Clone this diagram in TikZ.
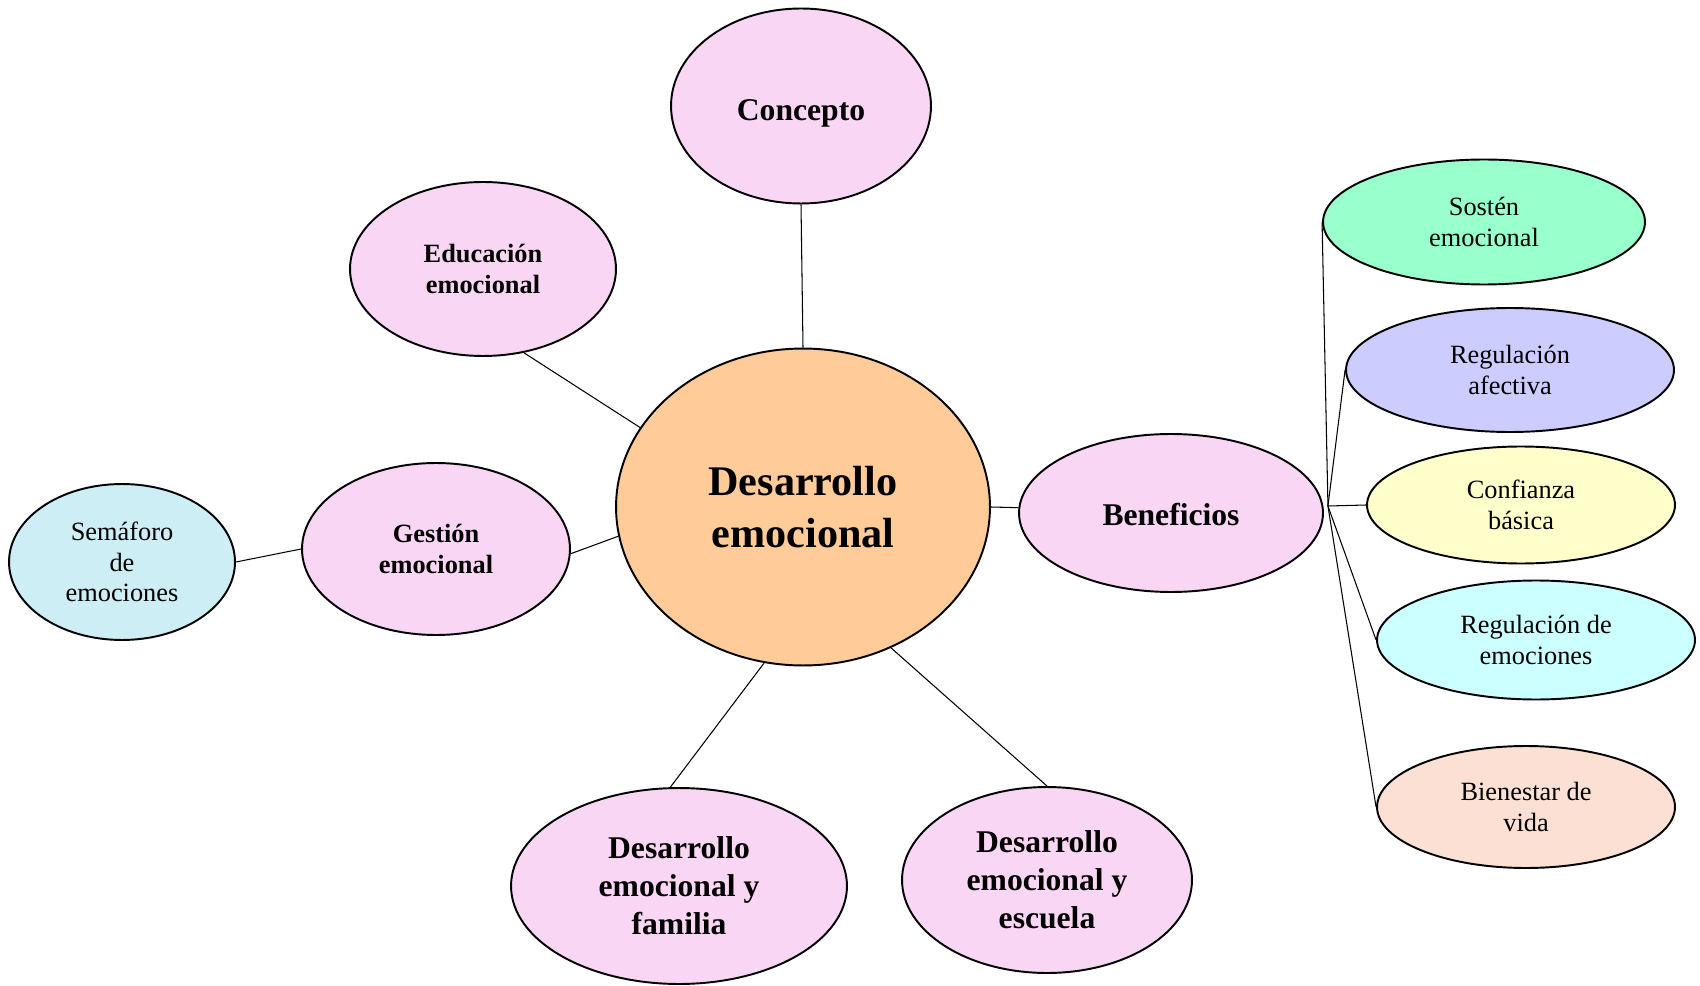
\documentclass[tikz,border=0pt]{standalone}
\usepackage{fontspec}
\setmainfont{Liberation Serif}
\usepackage{tikz}
\usetikzlibrary{shapes.geometric,positioning,calc}
\usepackage{xcolor}

\definecolor{pinkbub}{RGB}{248,214,244}
\definecolor{orangebub}{RGB}{254,203,153}
\definecolor{cyanbub}{RGB}{204,238,244}
\definecolor{mintbub}{RGB}{153,255,204}
\definecolor{lilacbub}{RGB}{204,204,255}
\definecolor{yellowbub}{RGB}{255,255,204}
\definecolor{aquabub}{RGB}{204,255,255}
\definecolor{peachbub}{RGB}{252,224,212}

\tikzset{
    bubble/.style={ellipse, draw=black, line width=1.1pt, inner sep=0pt, align=center},
    topicbub/.style={bubble, fill=pinkbub, font=\fontsize{18}{21.6}\selectfont\bfseries},
    smalltopic/.style={bubble, fill=pinkbub, font=\fontsize{15}{17.9}\selectfont\bfseries},
    leafbub/.style={bubble, font=\fontsize{15}{17.9}\selectfont},
    link/.style={draw=black, line width=0.6pt}
}

\begin{document}
\begin{tikzpicture}[x=0.02cm, y=-0.02cm]
    \useasboundingbox (0,0) rectangle (1700,986);

    % Central idea
    \node[bubble, fill=orangebub, minimum width=7.48cm, minimum height=6.34cm, font=\fontsize{24}{29.5}\selectfont\bfseries] (cen) at (803,507) {Desarrollo\\emocional};

    % Main topics
    \node[topicbub, minimum width=5.2cm, minimum height=3.9cm] (con) at (801,106) {\rule{0pt}{20.4pt}Concepto};
    \node[smalltopic, minimum width=5.32cm, minimum height=3.48cm] (edu) at (483,269) {Educación\\emocional};
    \node[smalltopic, minimum width=5.36cm, minimum height=3.44cm] (ges) at (436,549) {Gestión\\emocional};
    \node[leafbub, fill=cyanbub, minimum width=4.52cm, minimum height=3.12cm, font=\fontsize{15}{17.3}\selectfont] (sem) at (122,562) {Semáforo\\de\\emociones};
    \node[topicbub, minimum width=6.08cm, minimum height=3.16cm] (ben) at (1171,513) {\rule{0pt}{14.4pt}Beneficios};
    \node[topicbub, minimum width=6.72cm, minimum height=3.92cm] (fam) at (679,886) {Desarrollo\\emocional y\\familia};
    \node[topicbub, minimum width=5.8cm, minimum height=3.72cm] (esc) at (1047,880) {Desarrollo\\emocional y\\escuela};

    % Benefits
    \node[leafbub, fill=mintbub, minimum width=6.44cm, minimum height=2.5cm] (sos) at (1484,222) {Sostén\\emocional};
    \node[leafbub, fill=lilacbub, minimum width=6.56cm, minimum height=2.48cm] (raf) at (1510,370) {Regulación\\afectiva};
    \node[leafbub, fill=yellowbub, minimum width=6.16cm, minimum height=2.34cm] (cba) at (1521,505) {Confianza\\básica};
    \node[leafbub, fill=aquabub, minimum width=6.36cm, minimum height=2.38cm] (rem) at (1536,640) {Regulación de\\emociones};
    \node[leafbub, fill=peachbub, minimum width=5.96cm, minimum height=2.44cm] (bie) at (1526,807) {Bienestar de\\vida};

    % Connectors
    \draw[link] (con.south) -- (cen.north);
    \draw[link] (edu.-64) -- (cen.154);
    \draw[link] (ges.-2) -- (cen.-171);
    \draw[link] (sem.east) -- (ges.west);
    \draw[link] (fam.95) -- (cen.-104);
    \draw[link] (esc.north) -- (cen.-58);
    \draw[link] (cen.east) -- (ben.178);

    % Fan to benefits
    \coordinate (hub) at ($(ben.east)+(4,-7)$);
    \foreach \leaf in {sos,raf,cba,rem,bie}
        \draw[link] (hub) -- (\leaf.west);
\end{tikzpicture}
\end{document}
